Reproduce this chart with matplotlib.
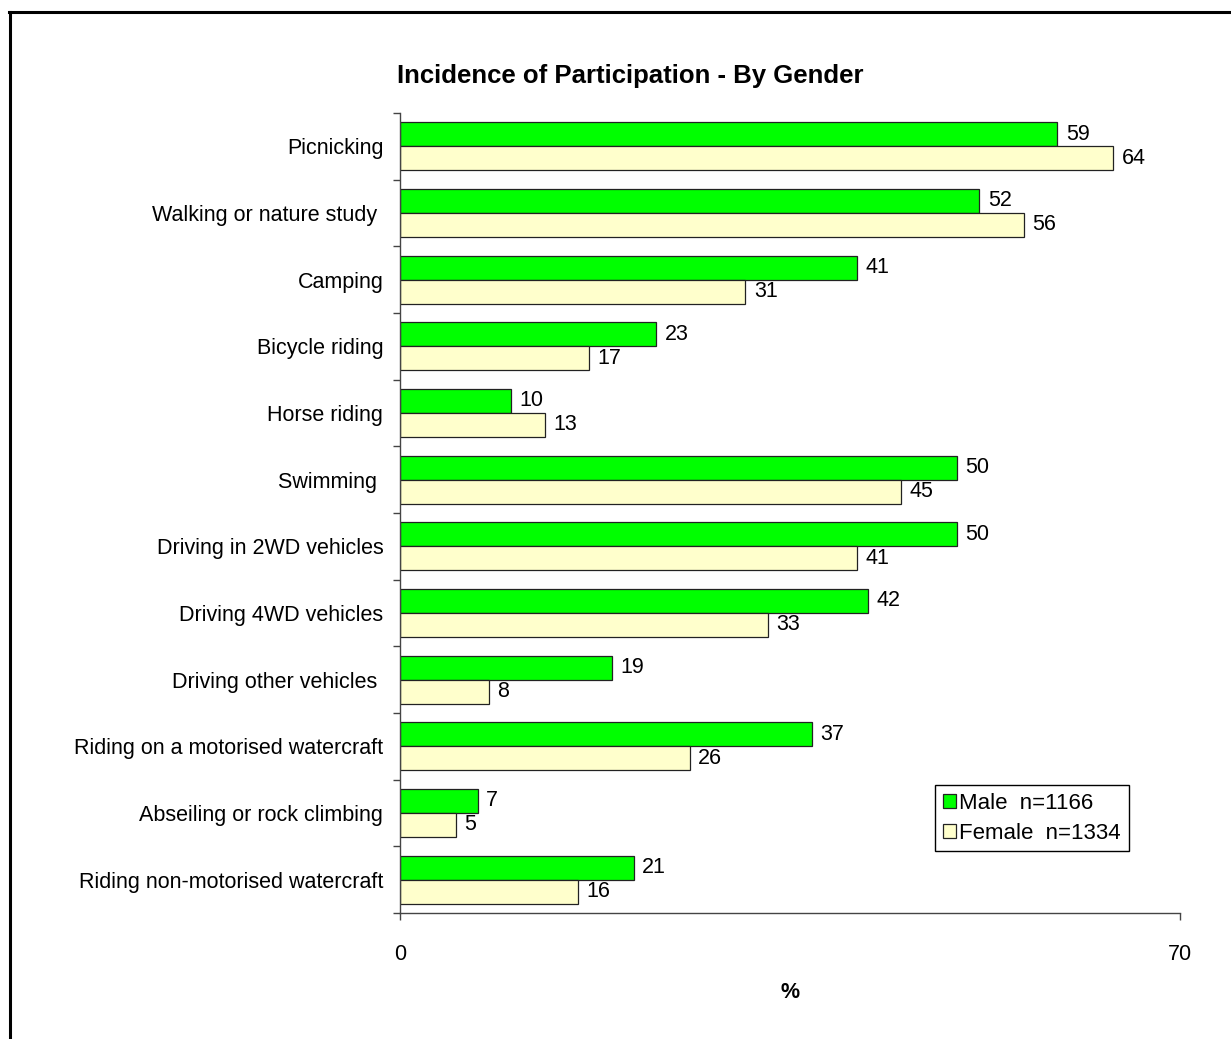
import matplotlib
matplotlib.use("Agg")
import matplotlib.pyplot as plt
from matplotlib.lines import Line2D
import numpy as np

plt.rcParams['font.family'] = ['Liberation Sans', 'DejaVu Sans']

categories = [
    "Picnicking",
    "Walking or nature study ",
    "Camping",
    "Bicycle riding",
    "Horse riding",
    "Swimming ",
    "Driving in 2WD vehicles",
    "Driving 4WD vehicles",
    "Driving other vehicles ",
    "Riding on a motorised watercraft",
    "Abseiling or rock climbing",
    "Riding non-motorised watercraft",
]
male = [59, 52, 41, 23, 10, 50, 50, 42, 19, 37, 7, 21]
female = [64, 56, 31, 17, 13, 45, 41, 33, 8, 26, 5, 16]
series_labels = ["Male  n=1166", "Female  n=1334"]
x_ticks = [0, 70]

FS = 15.5
W, H = 1231, 1039
fig = plt.figure(figsize=(W / 100, H / 100), dpi=100)
ax = fig.add_axes([400 / W, 1 - 913 / H, 780 / W, 800 / H])

y = np.arange(len(categories))
bh = 0.36
ax.barh(y - bh / 2, male, height=bh, color="#00FF00", edgecolor="#222222",
        linewidth=0.9, label=series_labels[0])
ax.barh(y + bh / 2, female, height=bh, color="#FFFFCC", edgecolor="#222222",
        linewidth=0.9, label=series_labels[1])

for yi, v in zip(y, male):
    ax.annotate(str(v), (v, yi - bh / 2), xytext=(6, 0), textcoords="offset points",
                va="center", ha="left", fontsize=FS)
for yi, v in zip(y, female):
    ax.annotate(str(v), (v, yi + bh / 2), xytext=(6, 0), textcoords="offset points",
                va="center", ha="left", fontsize=FS)

ax.set_xlim(0, 70)
ax.set_ylim(len(categories) - 0.5, -0.5)
ax.set_xticks(x_ticks)
ax.set_xticklabels([str(t) for t in x_ticks], fontsize=FS)
ax.tick_params(axis="x", direction="out", length=5, width=1, color="#444444", pad=17)

ax.set_yticks(y)
ax.set_yticklabels(categories, fontsize=FS)
ax.set_yticks(np.arange(len(categories) + 1) - 0.5, minor=True)
ax.tick_params(axis="y", which="major", length=0, pad=12)
ax.tick_params(axis="y", which="minor", direction="out", length=5, width=1, color="#444444")

for s in ["top", "right"]:
    ax.spines[s].set_visible(False)
for s in ["left", "bottom"]:
    ax.spines[s].set_color("#444444")
    ax.spines[s].set_linewidth(1)

fig.text(630 / W, 1 - 76 / H, "Incidence of Participation - By Gender",
         ha="center", va="center", fontsize=18.5, fontweight="bold")
fig.text(790 / W, 1 - 993 / H, "%", ha="center", va="center",
         fontsize=FS, fontweight="bold")

leg = ax.legend(loc="upper left", bbox_to_anchor=(935 / W, 1 - 785 / H),
                bbox_transform=fig.transFigure, borderaxespad=0, fontsize=16,
                fancybox=False, framealpha=1, edgecolor="black",
                handlelength=0.6, handleheight=0.6, handletextpad=0.15,
                borderpad=0.35, labelspacing=0.4)
leg.get_frame().set_linewidth(1)

# outer frame (left and top edges)
fig.add_artist(Line2D([9.5 / W, 9.5 / W], [0, 1 - 12 / H], transform=fig.transFigure,
                      color="black", linewidth=2.2))
fig.add_artist(Line2D([8.5 / W, 1], [1 - 12 / H, 1 - 12 / H], transform=fig.transFigure,
                      color="black", linewidth=2.2))

fig.savefig("out.png", dpi=100)
